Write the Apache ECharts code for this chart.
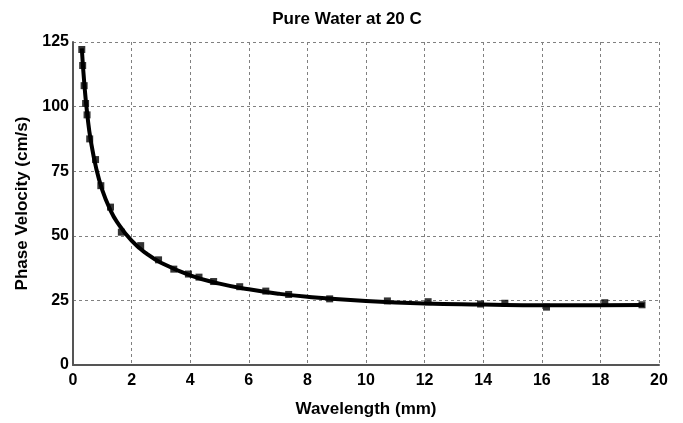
<!DOCTYPE html>
<html>
<head>
<meta charset="utf-8">
<script src="https://cdn.jsdelivr.net/npm/echarts@6/dist/echarts.min.js"></script>
<style>
  html, body { margin: 0; padding: 0; background: #fff; }
  #chart { width: 683px; height: 423px; }
</style>
</head>
<body>
<div id="chart"></div>
<script>
  // measured points (wavelength mm, phase velocity cm/s)
  var measWavelength = [0.30, 0.33, 0.38, 0.43, 0.48, 0.57, 0.77, 0.95, 1.28, 1.65, 2.31, 2.92,
    3.44, 3.94, 4.30, 4.80, 5.69, 6.58, 7.36, 8.76, 10.73, 12.12, 13.91, 14.74, 16.16, 18.15, 19.42];
  var measVelocity = [122.1, 115.9, 108.1, 101.2, 96.8, 87.5, 79.5, 69.4, 61.1, 51.4, 46.2, 40.7,
    37.1, 35.2, 34.0, 32.3, 30.3, 28.6, 27.3, 25.6, 24.8, 24.5, 23.6, 23.9, 22.4, 24.1, 23.3];

  // theory curve
  var curveWavelength = [0.3, 0.4, 0.5, 0.6, 0.8, 1.0, 1.25, 1.5, 2, 2.5, 3, 4, 5, 6, 7, 8, 10, 12, 14, 16, 18, 19.5];
  var curveVelocity = [122.5, 106.9, 95.7, 87.3, 75.7, 67.7, 60.6, 55.4, 48.1, 43.2, 39.6, 34.7,
    31.5, 29.3, 27.6, 26.4, 24.8, 23.8, 23.4, 23.1, 23.1, 23.2];

  var xTicks = [0, 2, 4, 6, 8, 10, 12, 14, 16, 18, 20];
  var yTicks = [0, 25, 50, 75, 100, 125];

  function pairs(xs, ys) {
    return xs.map(function (x, i) { return [x, ys[i]]; });
  }

  var font = '"Liberation Sans", Arial, sans-serif';
  var gridLine = { show: true, lineStyle: { color: '#808080', type: [3, 3], width: 1 } };
  var labelStyle = { fontFamily: font, fontWeight: 'bold', fontSize: 16, color: '#000' };
  var nameStyle = { fontFamily: font, fontWeight: 'bold', fontSize: 17, color: '#000' };

  var chart = echarts.init(document.getElementById('chart'));
  chart.setOption({
    animation: false,
    title: {
      text: 'Pure Water at 20 C',
      left: 342, top: 6, textAlign: 'center',
      textStyle: { fontFamily: font, fontWeight: 'bold', fontSize: 17, color: '#000' }
    },
    grid: { left: 73, right: 24, top: 42, bottom: 58 },
    xAxis: {
      type: 'value',
      min: xTicks[0], max: xTicks[xTicks.length - 1], interval: 2,
      name: 'Wavelength (mm)', nameLocation: 'middle', nameGap: 36,
      nameTextStyle: nameStyle,
      axisLine: { show: true, lineStyle: { color: '#555', width: 2 } },
      axisTick: { show: false },
      axisLabel: Object.assign({ margin: 8 }, labelStyle),
      splitLine: gridLine
    },
    yAxis: {
      type: 'value',
      min: yTicks[0], max: yTicks[yTicks.length - 1], interval: 25,
      name: 'Phase Velocity (cm/s)', nameLocation: 'middle', nameGap: 42,
      nameTextStyle: nameStyle,
      axisLine: { show: true, lineStyle: { color: '#555', width: 2 } },
      axisTick: { show: false },
      axisLabel: Object.assign({ margin: 4 }, labelStyle),
      splitLine: gridLine
    },
    series: [
      {
        type: 'line',
        data: pairs(curveWavelength, curveVelocity),
        smooth: true,
        showSymbol: false,
        lineStyle: { color: '#000', width: 4 },
        z: 2
      },
      {
        type: 'scatter',
        data: pairs(measWavelength, measVelocity),
        symbol: 'rect',
        symbolSize: 7,
        itemStyle: { color: '#000' },
        z: 3
      }
    ]
  });
</script>
</body>
</html>
